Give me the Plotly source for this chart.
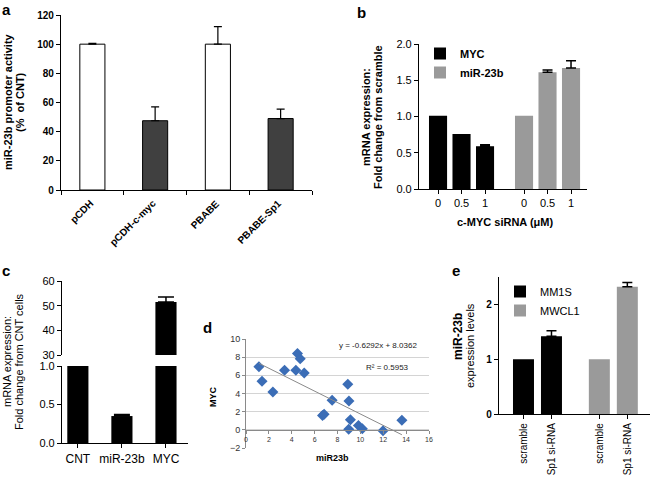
import plotly.graph_objects as go

# ---------------- data ----------------
a_categories = ["pCDH", "pCDH-c-myc", "PBABE", "PBABE-Sp1"]
a_values = [100, 47.5, 100, 49]
a_err = [0.6, 9.5, 12, 6.5]

b_doses = ["0", "0.5", "1"]
b_myc = [1.01, 0.76, 0.59]
b_myc_err = [0, 0, 0.02]
b_mir = [1.01, 1.61, 1.67]
b_mir_err = [0, 0.03, 0.10]

c_categories = ["CNT", "miR-23b", "MYC"]
c_values = [1.0, 0.35, 51.5]
c_err = [0, 0.02, 2.0]

d_mir23b = [1.13, 1.40, 2.35, 3.37, 4.36, 4.50, 4.74, 5.09, 6.69, 6.83, 7.53,
            8.90, 9.00, 9.13, 8.98, 9.83, 10.17, 11.98, 13.63]
d_myc = [6.95, 5.34, 4.17, 6.55, 6.55, 8.40, 7.83, 6.26, 1.57, 1.72, 3.26,
         5.01, 3.18, 1.10, 0.07, 0.48, 0.11, -0.11, 1.06]
d_slope = -0.6292
d_intercept = 8.0362
d_r2 = 0.5953

e_conditions = ["scramble", "Sp1 si-RNA"]
e_mm1s = [1.0, 1.42]
e_mm1s_err = [0, 0.10]
e_mwcl1 = [1.0, 2.32]
e_mwcl1_err = [0, 0.08]

# ---------------- helpers ----------------
W, H = 654, 480
FONT = "Arial, Liberation Sans, sans-serif"


def fx(p):
    return p / W


def fy(p):
    return 1 - p / H


fig = go.Figure()


def add_err(xs, ys, errs, xa, ya, thick=1.5, w=5):
    """Upper-only error bars, drawn only where an error exists."""
    keep = [i for i, e in enumerate(errs) if e > 0]
    if not keep:
        return
    fig.add_trace(go.Scatter(
        x=[xs[i] for i in keep], y=[ys[i] for i in keep], mode="markers",
        marker=dict(size=1, opacity=0),
        error_y=dict(type="data", symmetric=False, array=[errs[i] for i in keep],
                     arrayminus=[0] * len(keep), color="black", thickness=thick, width=w),
        xaxis=xa, yaxis=ya, showlegend=False, hoverinfo="skip"))


# ---------------- panel a ----------------
a_x = list(range(len(a_categories)))
a_colors = ["white", "#404040", "white", "#404040"]
fig.add_trace(go.Bar(
    x=a_x, y=a_values, width=0.4,
    marker=dict(color=a_colors, line=dict(color="black", width=1)),
    xaxis="x", yaxis="y", showlegend=False))
add_err(a_x, a_values, a_err, "x", "y", thick=1.2, w=4)

# ---------------- panel b ----------------
b_gap = 0.66
b_x_myc = [i for i in range(len(b_doses))]
b_x_mir = [len(b_doses) + b_gap + i for i in range(len(b_doses))]
fig.add_trace(go.Bar(
    x=b_x_myc, y=b_myc, width=0.77, name="MYC", marker=dict(color="black", line=dict(width=0)),
    xaxis="x2", yaxis="y2", legend="legend"))
fig.add_trace(go.Bar(
    x=b_x_mir, y=b_mir, width=0.77, name="miR-23b", marker=dict(color="#9a9a9a", line=dict(width=0)),
    xaxis="x2", yaxis="y2", legend="legend"))
add_err(b_x_myc, b_myc, b_myc_err, "x2", "y2")
add_err(b_x_mir, b_mir, b_mir_err, "x2", "y2")

# ---------------- panel c (broken axis) ----------------
for ya in ["y3", "y4"]:
    fig.add_trace(go.Bar(
        x=c_categories, y=c_values, width=0.48, marker=dict(color="black", line=dict(width=0)),
        xaxis="x3", yaxis=ya, showlegend=False))
    add_err(c_categories, c_values, c_err, "x3", ya, w=8)

# ---------------- panel d ----------------
fig.add_trace(go.Scatter(
    x=d_mir23b, y=d_myc, mode="markers",
    marker=dict(symbol="diamond", size=8.5, color="#3B6DB6"),
    xaxis="x4", yaxis="y5", showlegend=False))
d_fit_x = [min(d_mir23b), max(d_mir23b)]
d_fit_y = [d_slope * v + d_intercept for v in d_fit_x]
fig.add_trace(go.Scatter(
    x=d_fit_x, y=d_fit_y, mode="lines", line=dict(color="#8a8a8a", width=1),
    xaxis="x4", yaxis="y5", showlegend=False))

# ---------------- panel e ----------------
e_gap = 0.71
e_x_mm1s = [i for i in range(len(e_conditions))]
e_x_mwcl1 = [len(e_conditions) + e_gap + i for i in range(len(e_conditions))]
fig.add_trace(go.Bar(
    x=e_x_mm1s, y=e_mm1s, width=0.75, name="MM1S", marker=dict(color="black", line=dict(width=0)),
    xaxis="x5", yaxis="y6", legend="legend2"))
fig.add_trace(go.Bar(
    x=e_x_mwcl1, y=e_mwcl1, width=0.75, name="MWCL1", marker=dict(color="#9a9a9a", line=dict(width=0)),
    xaxis="x5", yaxis="y6", legend="legend2"))
add_err(e_x_mm1s, e_mm1s, e_mm1s_err, "x5", "y6")
add_err(e_x_mwcl1, e_mwcl1, e_mwcl1_err, "x5", "y6")

# ---------------- axes ----------------
ax_common = dict(showline=True, linecolor="black", linewidth=1.2, ticks="outside",
                 tickcolor="black", ticklen=4, showgrid=False, zeroline=False, automargin=False)
bold10 = dict(family=FONT, size=10, color="black", weight="bold")
reg11 = dict(family=FONT, size=11, color="black")

# position of panel d x axis at y = 0
d_ydom = [fy(448), fy(339)]
d_yrange = [-2, 10]
d_xpos = d_ydom[0] + (d_ydom[1] - d_ydom[0]) * (0 - d_yrange[0]) / (d_yrange[1] - d_yrange[0])

fig.update_layout(
    width=W, height=H, margin=dict(l=0, r=0, t=0, b=0),
    paper_bgcolor="white", plot_bgcolor="rgba(0,0,0,0)",
    font=dict(family=FONT, color="black"),
    barmode="overlay",
    xaxis=dict(domain=[fx(61), fx(312)], anchor="y", range=[-0.5, len(a_categories) - 0.5],
               tickmode="array", tickvals=a_x, ticktext=a_categories, showticklabels=False, ticks="",
               showline=True, linecolor="black", linewidth=1.2, showgrid=False, zeroline=False,
               automargin=False,
               minor=dict(ticks="outside", tick0=0.5, dtick=1, ticklen=4, tickcolor="black",
                          showgrid=False)),
    yaxis=dict(domain=[fy(190), fy(15)], anchor="x", range=[0, 120], dtick=20,
               tickfont=bold10, **ax_common),
    xaxis2=dict(domain=[fx(419), fx(587)], anchor="y2", range=[-0.81, 6.34],
                tickvals=b_x_myc + b_x_mir, ticktext=b_doses + b_doses, tickfont=reg11, **ax_common),
    yaxis2=dict(domain=[fy(189), fy(44)], anchor="x2", range=[0, 2.0], dtick=0.5, tickformat=".1f",
                tickfont=reg11, **ax_common),
    xaxis3=dict(domain=[fx(62), fx(188)], anchor="y3", range=[-0.36, 2.5],
                tickfont=dict(family=FONT, size=12, color="black"), **ax_common),
    yaxis3=dict(domain=[fy(443), fy(366)], anchor="x3", range=[0, 1.0], dtick=0.5, tickformat=".1f",
                tickfont=reg11, **ax_common),
    yaxis4=dict(domain=[fy(355), fy(281)], anchor="x3", range=[30, 60], dtick=10,
                tickfont=reg11, **ax_common),
    xaxis4=dict(domain=[fx(246), fx(429)], anchor="free", position=d_xpos, range=[0, 16], dtick=2,
                showline=True, linecolor="#8a8a8a", linewidth=1, ticks="outside", tickcolor="#8a8a8a",
                ticklen=3, showgrid=False, zeroline=False, automargin=False,
                tickfont=dict(family=FONT, size=7, color="#333")),
    yaxis5=dict(domain=d_ydom, anchor="x4", range=d_yrange, dtick=2,
                showline=True, linecolor="#8a8a8a", linewidth=1, ticks="outside", tickcolor="#8a8a8a",
                ticklen=3, showgrid=True, gridcolor="#d4d4d4", gridwidth=1, zeroline=False,
                automargin=False, tickfont=dict(family=FONT, size=9, color="#333")),
    xaxis5=dict(domain=[fx(499), fx(650)], anchor="y6", range=[-0.875, 4.52],
                tickvals=e_x_mm1s + e_x_mwcl1, ticktext=e_conditions + e_conditions, tickangle=-90,
                tickfont=dict(family=FONT, size=10, color="black"), **ax_common),
    yaxis6=dict(domain=[fy(414), fy(277)], anchor="x5", range=[0, 2.5], dtick=1,
                tickfont=bold10, **ax_common),
    legend=dict(x=fx(420), y=fy(39), xanchor="left", yanchor="top", bgcolor="rgba(0,0,0,0)",
                font=dict(family=FONT, size=11, color="black", weight="bold"), tracegroupgap=0,
                itemwidth=30, traceorder="normal"),
    legend2=dict(x=fx(500), y=fy(277), xanchor="left", yanchor="top", bgcolor="rgba(0,0,0,0)",
                 font=dict(family=FONT, size=11, color="black"), tracegroupgap=0,
                 itemwidth=30, traceorder="normal"),
)


def ann(text, x, y, size=11, bold=False, angle=0, color="black", xanchor="center", yanchor="middle"):
    fig.add_annotation(text=text, x=fx(x), y=fy(y), xref="paper", yref="paper",
                       showarrow=False, textangle=angle, xanchor=xanchor, yanchor=yanchor,
                       font=dict(family=FONT, size=size, color=color,
                                 weight="bold" if bold else "normal"))


# panel a category labels, rotated 45 degrees, placed on the axis's own scale
for xi, lab in zip(a_x, a_categories):
    fig.add_annotation(text=lab, x=xi, y=fy(195), xref="x", yref="paper", showarrow=False,
                       textangle=-45, xanchor="right", yanchor="top", xshift=6,
                       font=dict(family=FONT, size=10, color="black", weight="bold"))

# panel letters
ann("a", 6, 9, size=15, bold=True)
ann("b", 361, 12, size=15, bold=True)
ann("c", 6, 270, size=15, bold=True)
ann("d", 207, 327, size=15, bold=True)
ann("e", 456, 270, size=15, bold=True)

# axis titles
ann("miR-23b promoter activity", 8, 102, size=11, bold=True, angle=-90)
ann("(%  of CNT)", 20, 102, size=11, bold=True, angle=-90)
ann("mRNA expression:", 366, 117, size=11, bold=True, angle=-90)
ann("Fold change from scramble", 378, 117, size=11, bold=True, angle=-90)
ann("c-MYC siRNA (\u03bcM)", 505, 222, size=11, bold=True)
ann("mRNA expression:", 7, 362, size=11, angle=-90)
ann("Fold change from CNT cells", 19, 362, size=11, angle=-90)
ann("MYC", 213, 397, size=9, bold=True, angle=-90)
ann("miR23b", 332, 458, size=9, bold=True)
ann("miR-23b", 458, 336, size=12, bold=True, angle=-90)
ann("expression levels", 470, 345, size=11, angle=-90)

# regression text
ann(f"y = {d_slope}x + {d_intercept}", 378, 345, size=8, color="#222")
ann(f"R\u00b2 = {d_r2}", 387, 367, size=8, color="#222")

fig.write_html("out.html", config={"displayModeBar": False},
               post_script="document.body.style.margin='0';")
